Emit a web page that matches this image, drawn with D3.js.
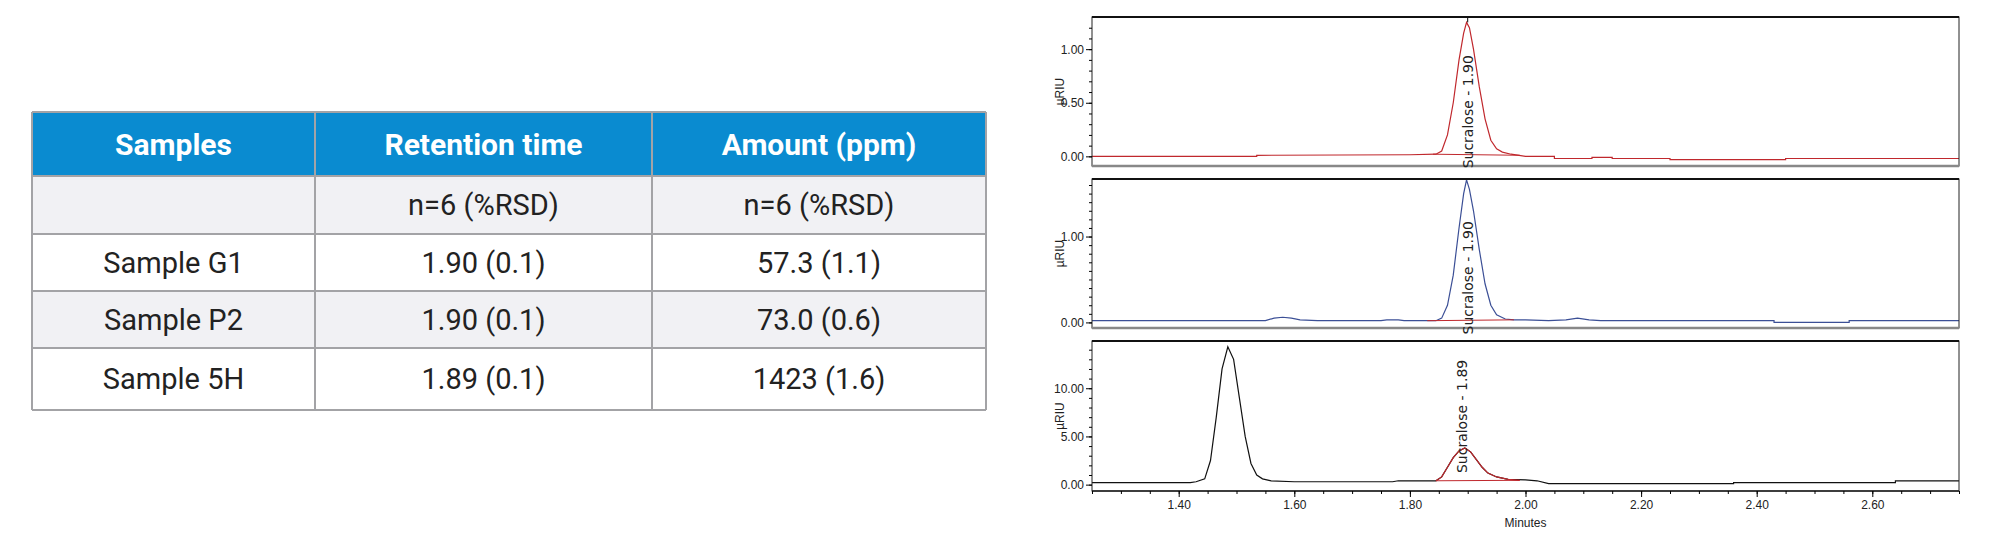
<!DOCTYPE html>
<html><head><meta charset="utf-8">
<script src="https://cdn.jsdelivr.net/npm/d3@7"></script>
<style>body{margin:0;background:#fff;} svg{display:block;}</style>
</head><body>
<script>
// table content
const headers = ["Samples", "Retention time", "Amount (ppm)"];
const rows = [
  ["", "n=6 (%RSD)", "n=6 (%RSD)"],
  ["Sample G1", "1.90 (0.1)", "57.3 (1.1)"],
  ["Sample P2", "1.90 (0.1)", "73.0 (0.6)"],
  ["Sample 5H", "1.89 (0.1)", "1423 (1.6)"]
];

// chromatogram traces, [minutes, µRIU]
const trace1 = [[1.25,0],[1.535,0],[1.535,0.01],[1.80,0.015],[1.845,0.02],[1.855,0.05],[1.865,0.2],[1.875,0.5],[1.885,0.9],[1.893,1.15],[1.898,1.25],[1.903,1.2],[1.91,1.0],[1.92,0.65],[1.93,0.35],[1.94,0.15],[1.95,0.07],[1.96,0.04],[1.975,0.02],[2.00,0.0],[2.05,0.0],[2.05,-0.02],[2.115,-0.02],[2.115,-0.01],[2.15,-0.01],[2.15,-0.02],[2.25,-0.02],[2.25,-0.03],[2.45,-0.03],[2.45,-0.02],[2.75,-0.02]];
const base1 = [[1.84,0.02],[1.99,0.01]];
const trace2 = [[1.25,0.02],[1.55,0.02],[1.565,0.05],[1.58,0.06],[1.595,0.05],[1.61,0.03],[1.64,0.02],[1.75,0.02],[1.76,0.03],[1.78,0.03],[1.79,0.02],[1.845,0.02],[1.855,0.05],[1.865,0.2],[1.875,0.55],[1.885,1.1],[1.893,1.5],[1.898,1.66],[1.903,1.55],[1.91,1.3],[1.92,0.85],[1.93,0.45],[1.94,0.2],[1.95,0.09],[1.965,0.04],[1.98,0.03],[2.00,0.03],[2.04,0.02],[2.07,0.03],[2.09,0.05],[2.11,0.03],[2.13,0.02],[2.43,0.02],[2.43,0.0],[2.56,0.0],[2.56,0.02],[2.75,0.02]];
const base2 = [[1.83,0.02],[1.98,0.03]];
const trace3 = [[1.25,0.2],[1.42,0.2],[1.43,0.3],[1.445,0.6],[1.455,2.5],[1.465,7],[1.475,12],[1.485,14.3],[1.495,13],[1.505,9],[1.515,5],[1.525,2.2],[1.535,1],[1.545,0.6],[1.56,0.4],[1.6,0.3],[1.77,0.3],[1.78,0.4],[1.845,0.4],[1.855,0.8],[1.865,1.8],[1.875,2.8],[1.885,3.5],[1.895,3.8],[1.905,3.4],[1.915,2.6],[1.925,1.8],[1.935,1.2],[1.95,0.8],[1.97,0.55],[2.0,0.5],[2.02,0.4],[2.04,0.1],[2.36,0.1],[2.36,0.2],[2.64,0.2],[2.64,0.4],[2.75,0.4]];
const peak3 = [[1.845,0.4],[1.855,0.8],[1.865,1.8],[1.875,2.8],[1.885,3.5],[1.895,3.8],[1.905,3.4],[1.915,2.6],[1.925,1.8],[1.935,1.2],[1.95,0.8],[1.97,0.55],[1.99,0.45]];
const base3 = [[1.845,0.4],[1.99,0.45]];

const panels = [
  {y0:17,  y1:166, dom:[-0.09,1.30], ticks:[0,0.5,1.0], minor:0.1, color:"#c0282d", data:trace1, base:base1, label:"Sucralose - 1.90", apex:1.25, rt:1.90},
  {y0:179, y1:328, dom:[-0.065,1.67], ticks:[0,1.0], minor:0.1, color:"#3b4f96", data:trace2, base:base2, label:"Sucralose - 1.90", apex:1.66, rt:1.90},
  {y0:341, y1:491, dom:[-0.66,14.9], ticks:[0,5,10], minor:1, color:"#111", data:trace3, base:base3, peak:peak3, label:"Sucralose - 1.89", rt:1.89}
];
const xTicks = [1.4,1.6,1.8,2.0,2.2,2.4,2.6];

const W = 2000, H = 554;
const svg = d3.select("body").append("svg").attr("width", W).attr("height", H);

// ---- table
const colX = [32, 315, 652, 986];
const rowY = [112, 176, 234, 291, 348, 410];
const tfont = "Roboto, 'Liberation Sans', sans-serif";
const tbl = svg.append("g");
tbl.append("rect").attr("x", colX[0]).attr("y", rowY[0]).attr("width", colX[3]-colX[0]).attr("height", rowY[1]-rowY[0]).attr("fill", "#0a8bd0");
rows.forEach((r, i) => {
  tbl.append("rect").attr("x", colX[0]).attr("y", rowY[i+1]).attr("width", colX[3]-colX[0]).attr("height", rowY[i+2]-rowY[i+1])
    .attr("fill", i % 2 == 0 ? "#f1f1f4" : "#fff");
});
headers.forEach((h, j) => {
  tbl.append("text").attr("x", (colX[j]+colX[j+1])/2).attr("y", (rowY[0]+rowY[1])/2).attr("dy", "0.36em")
    .attr("text-anchor", "middle").attr("fill", "#fff").attr("font-family", tfont).attr("font-weight", "bold")
    .attr("font-size", 30).text(h);
});
rows.forEach((r, i) => r.forEach((c, j) => {
  tbl.append("text").attr("x", (colX[j]+colX[j+1])/2).attr("y", (rowY[i+1]+rowY[i+2])/2).attr("dy", "0.36em")
    .attr("text-anchor", "middle").attr("fill", "#222").attr("font-family", tfont)
    .attr("font-size", 29).text(c);
}));
const lines = tbl.append("g").attr("stroke", "#a3a3a6").attr("stroke-width", 2);
rowY.forEach(y => lines.append("line").attr("x1", colX[0]).attr("x2", colX[3]).attr("y1", y).attr("y2", y));
colX.forEach(x => lines.append("line").attr("x1", x).attr("x2", x).attr("y1", rowY[0]).attr("y2", rowY[5]));

// ---- chromatograms
const left = 1092, right = 1959;
const x = d3.scaleLinear().domain([1.25, 2.75]).range([left, right]);
const cfont = "'Liberation Sans', Arial, sans-serif";

panels.forEach((p, i) => {
  const y = d3.scaleLinear().domain(p.dom).range([p.y1, p.y0]);
  const g = svg.append("g");
  const line = d3.line().x(d => x(d[0])).y(d => y(d[1]));
  g.append("path").datum(p.data).attr("d", line).attr("fill", "none").attr("stroke", p.color).attr("stroke-width", 1.2);
  if (p.peak) g.append("path").datum(p.peak).attr("d", line).attr("fill", "none").attr("stroke", "#c0282d").attr("stroke-width", 1.2);
  g.append("path").datum(p.base).attr("d", line).attr("fill", "none").attr("stroke", "#c0282d").attr("stroke-width", 1);
  if (p.apex) g.append("line").attr("x1", x(p.rt)).attr("x2", x(p.rt)).attr("y1", p.y0).attr("y2", y(p.apex)).attr("stroke", "#000");

  // frame
  g.append("rect").attr("x", left).attr("y", p.y0).attr("width", right-left).attr("height", p.y1-p.y0)
    .attr("fill", "none").attr("stroke", "#222").attr("stroke-width", 1);
  g.append("line").attr("x1", left).attr("x2", right).attr("y1", p.y0).attr("y2", p.y0).attr("stroke", "#111").attr("stroke-width", 2);
  g.append("line").attr("x1", left).attr("x2", right).attr("y1", p.y1).attr("y2", p.y1).attr("stroke", i < 2 ? "#888" : "#222").attr("stroke-width", i < 2 ? 2.5 : 1.5);

  // y axis
  const minorT = d3.range(Math.ceil(p.dom[0]/p.minor)*p.minor, p.dom[1], p.minor);
  g.append("g").attr("transform", `translate(${left},0)`)
    .call(d3.axisLeft(y).tickValues(minorT).tickSize(3).tickFormat(""))
    .call(a => a.select(".domain").remove());
  g.append("g").attr("transform", `translate(${left},0)`)
    .call(d3.axisLeft(y).tickValues(p.ticks).tickSize(6).tickPadding(2).tickFormat(d3.format(".2f")))
    .call(a => a.select(".domain").remove())
    .call(a => a.selectAll("text").attr("font-family", cfont).attr("font-size", 12).attr("fill", "#222"));
  g.append("text").attr("transform", `translate(1064,${(p.y0+p.y1)/2}) rotate(-90)`).attr("text-anchor", "middle")
    .attr("font-family", cfont).attr("font-size", 12).attr("fill", "#222").text("µRIU");

  // peak label
  const ly = i == 2 ? y(1.2) : y(0) + 12;
  g.append("text").attr("transform", `translate(${x(p.rt) + 5},${ly}) rotate(-90)`)
    .attr("font-family", "'DejaVu Sans', sans-serif").attr("font-size", 14).attr("fill", "#222").text(p.label);

  if (i == 2) {
    g.append("g").attr("transform", `translate(0,${p.y1})`)
      .call(d3.axisBottom(x).tickValues(d3.range(1.25, 2.76, 0.05)).tickSize(3).tickFormat(""))
      .call(a => a.select(".domain").remove());
    g.append("g").attr("transform", `translate(0,${p.y1})`)
      .call(d3.axisBottom(x).tickValues(xTicks).tickSize(6).tickFormat(d3.format(".2f")))
      .call(a => a.select(".domain").remove())
      .call(a => a.selectAll("text").attr("font-family", cfont).attr("font-size", 12).attr("fill", "#222"));
    g.append("text").attr("x", x(2.0)).attr("y", 527).attr("text-anchor", "middle")
      .attr("font-family", cfont).attr("font-size", 12).attr("fill", "#222").text("Minutes");
  }
});
</script>
</body></html>
